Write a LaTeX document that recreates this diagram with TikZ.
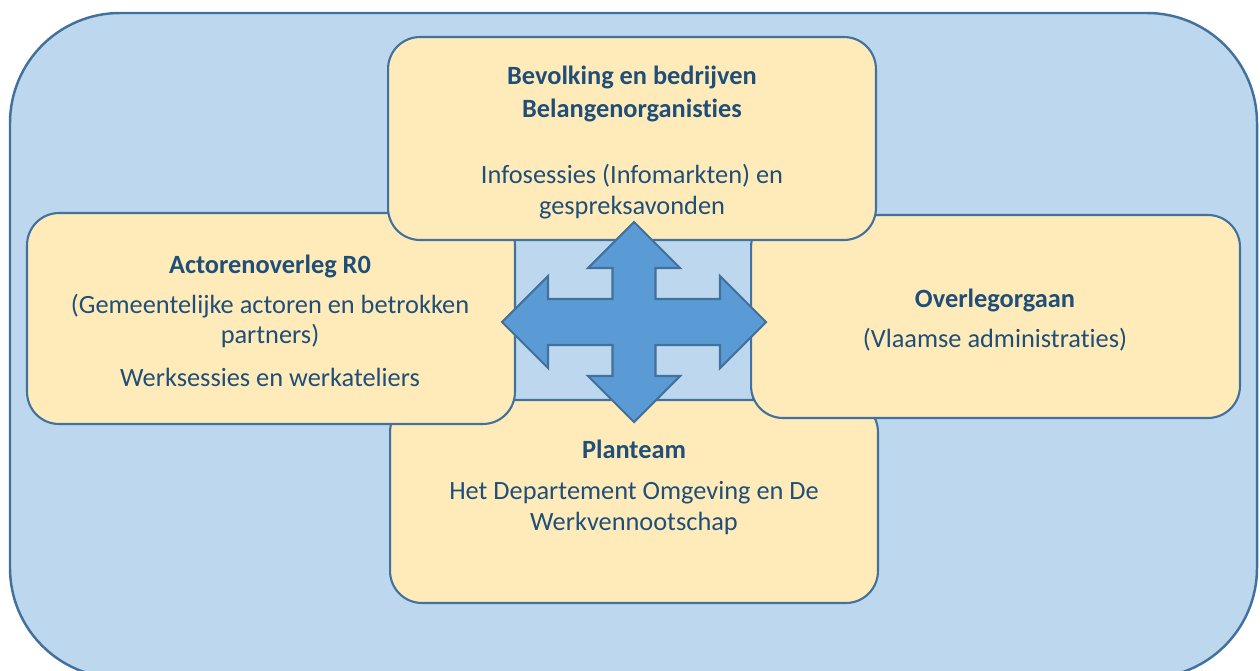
\documentclass[tikz,border=0pt]{standalone}
\usepackage{fontspec}
\setmainfont[Ligatures=NoCommon]{Carlito}
\definecolor{outerfill}{HTML}{BDD7EE}
\definecolor{edge}{HTML}{41719C}
\definecolor{boxfill}{HTML}{FFEBB9}
\definecolor{arrowfill}{HTML}{5B9BD5}
\definecolor{txt}{HTML}{1F4E79}
\tikzset{
  panel/.style={draw=edge, fill=boxfill, line width=1.2pt, rounded corners=0.64cm, inner sep=0pt},
  hd/.style={text=txt, font=\fontsize{15}{18}\selectfont\bfseries, inner sep=0pt, anchor=base},
  tx/.style={text=txt, font=\fontsize{15}{18}\selectfont, inner sep=0pt, anchor=base},
}
\begin{document}
\begin{tikzpicture}[x=0.02cm, y=-0.02cm]
\useasboundingbox (0,0) rectangle (1260,670);
\clip (0,0) rectangle (1260,670);
% outer frame
\draw[draw=edge, fill=outerfill, line width=1.4pt, rounded corners=2.2cm] (10,13) rectangle (1257,678);
% central square
\node[draw=edge, fill=outerfill, line width=1.2pt, minimum width=4.8cm, minimum height=3.24cm, inner sep=0pt] (mid) at (633,321) {};
% panels
\node[panel, minimum width=9.76cm, minimum height=4.06cm] (bottom) at (634,501.5) {};
\node[panel, minimum width=9.76cm, minimum height=4.22cm] (left) at (271,318.5) {};
\node[panel, minimum width=9.78cm, minimum height=4.06cm] (right) at (995.5,316.5) {};
\node[panel, minimum width=9.76cm, minimum height=4.06cm] (top) at (632,138.5) {};
% texts
\node[hd] (t1) at (632,84) {Bevolking en bedrijven};
\node[hd] (t2) at (632,117) {Belangenorganisties};
\node[tx] (t3) at (632,183) {Infosessies (Infomarkten) en};
\node[tx] (t4) at (632,214) {gespreksavonden};
\node[hd] (l1) at (270,273) {Actorenoverleg R0};
\node[tx] (l2) at (270,313) {(Gemeentelijke actoren en betrokken};
\node[tx] (l3) at (270,343) {partners)};
\node[tx] (l4) at (270,386) {Werksessies en werkateliers};
\node[hd] (r1) at (995,307) {Overlegorgaan};
\node[tx] (r2) at (995,347) {(Vlaamse administraties)};
\node[hd] (b1) at (634,458) {Planteam};
\node[tx] (b2) at (634,499) {Het Departement Omgeving en De};
\node[tx] (b3) at (634,530) {Werkvennootschap};
% quad arrow
\coordinate (c) at (634,322);
\begin{scope}[shift={(c)}]
\draw[draw=edge, fill=arrowfill, line width=1.2pt, line join=miter]
  (0,-100) -- (46,-54) -- (21.5,-54) -- (21.5,-23) -- (86,-23) -- (86,-46) -- (132,0)
  -- (86,46) -- (86,23) -- (21.5,23) -- (21.5,54) -- (46,54) -- (0,100)
  -- (-46,54) -- (-21.5,54) -- (-21.5,23) -- (-86,23) -- (-86,46) -- (-132,0)
  -- (-86,-46) -- (-86,-23) -- (-21.5,-23) -- (-21.5,-54) -- (-46,-54) -- cycle;
\end{scope}
\end{tikzpicture}
\end{document}
